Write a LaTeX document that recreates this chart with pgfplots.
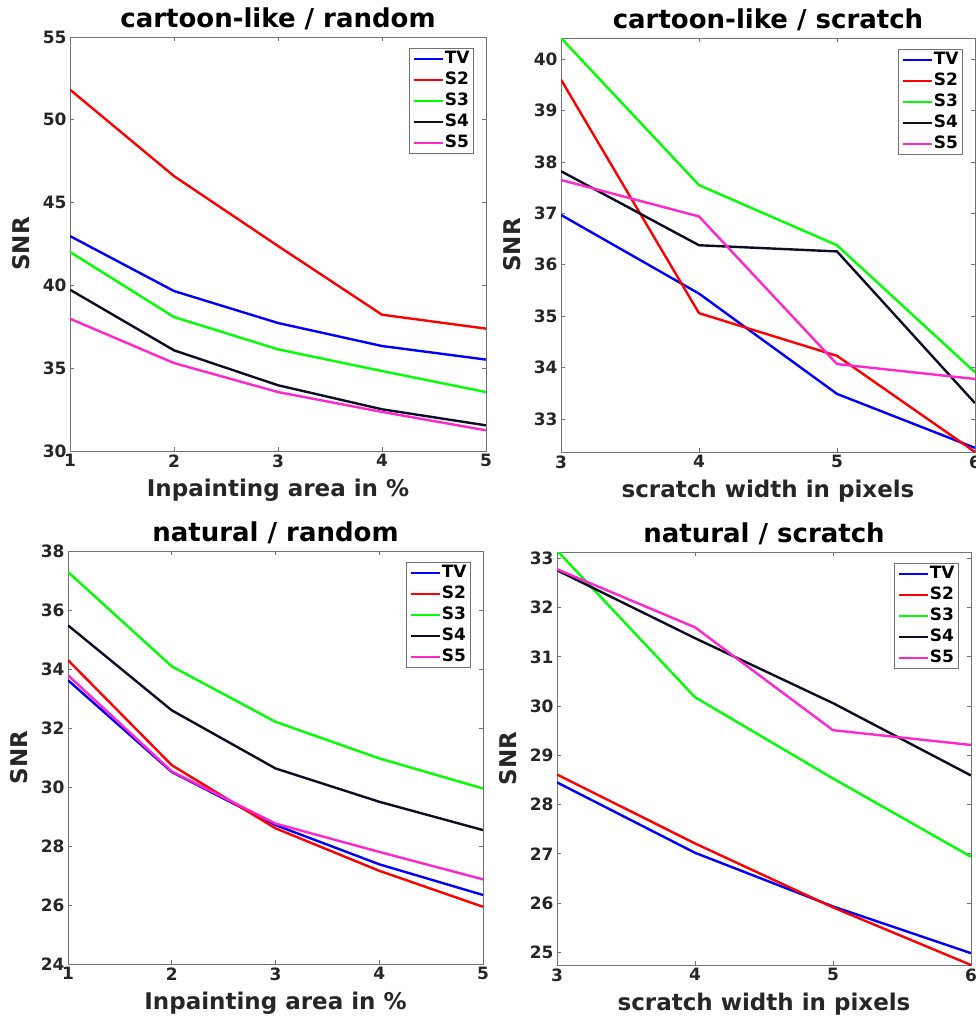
\documentclass[border=0pt]{standalone}
\usepackage{pgfplots}
\pgfplotsset{compat=1.18}
\usepackage{fontspec}
\setmainfont{DejaVu Sans}
\definecolor{cTV}{rgb}{0,0,1}
\definecolor{cS2}{rgb}{1,0,0}
\definecolor{cS3}{rgb}{0,1,0}
\definecolor{cS4}{rgb}{0.05,0.05,0.15}
\definecolor{cS5}{rgb}{1,0.15,0.8}
\definecolor{axgray}{rgb}{0.45,0.45,0.45}
\definecolor{txt}{rgb}{0.15,0.15,0.15}
\pgfplotsset{
  myaxis/.style={
    scale only axis,
    axis line style={axgray, line width=0.8pt},
    tick style={axgray, line width=0.8pt},
    tick align=inside,
    major tick length=4pt,
    /pgf/number format/assume math mode=true,
    tick label style={font=\fontsize{17}{20}\selectfont\bfseries, color=txt},
    label style={font=\fontsize{23}{26}\selectfont\bfseries, color=txt},
    xlabel style={yshift=-5pt},
    ylabel style={yshift=6pt},
    title style={font=\fontsize{26}{30}\selectfont\bfseries, yshift=-2pt},
    ylabel={SNR},
    legend cell align=left,
    legend style={at={(1,1)}, anchor=north east, xshift=-12pt, yshift=-11pt,
      draw=axgray, line width=0.8pt, fill=white, inner xsep=3pt, inner ysep=2.5pt,
      font=\fontsize{17}{19}\selectfont\bfseries, row sep=5pt, column sep=0pt,
      nodes={inner xsep=1pt, inner ysep=0pt, text height=12.5pt, text depth=3.5pt}},
    legend image code/.code={\draw[##1] (0pt,0pt) -- (29pt,0pt);},
    every axis plot/.append style={line width=2.4pt},
  }
}
\begin{document}
\begin{tikzpicture}
% ---------------- top-left
\begin{axis}[myaxis, at={(70pt,-37pt)}, anchor=north west,
  width=416pt, height=414pt,
  xmin=1, xmax=5, ymin=30, ymax=55, xtick={1,2,3,4,5}, ytick={30,35,40,45,50,55},
  title={cartoon-like / random}, xlabel={Inpainting area in \%}]
\addplot[cTV] coordinates {(1,42.98) (2,39.66) (3,37.73) (4,36.34) (5,35.52)};
\addplot[cS2] coordinates {(1,51.82) (2,46.60) (3,42.38) (4,38.23) (5,37.39)};
\addplot[cS3] coordinates {(1,42.02) (2,38.09) (3,36.14) (4,34.83) (5,33.56)};
\addplot[cS4] coordinates {(1,39.74) (2,36.08) (3,33.97) (4,32.52) (5,31.55)};
\addplot[cS5] coordinates {(1,37.99) (2,35.31) (3,33.56) (4,32.36) (5,31.25)};
\legend{TV,S2,S3,S4,S5}
\end{axis}
% ---------------- top-right
\begin{axis}[myaxis, at={(561pt,-38pt)}, anchor=north west,
  width=414pt, height=414pt,
  xmin=3, xmax=6, ymin=32.36, ymax=40.41, xtick={3,4,5,6}, ytick={33,34,35,36,37,38,39,40},
  title={cartoon-like / scratch}, xlabel={scratch width in pixels}]
\addplot[cTV] coordinates {(3,36.97) (4,35.44) (5,33.49) (6,32.44)};
\addplot[cS2] coordinates {(3,39.60) (4,35.06) (5,34.23) (6,32.36)};
\addplot[cS3] coordinates {(3,40.41) (4,37.55) (5,36.38) (6,33.91)};
\addplot[cS4] coordinates {(3,37.82) (4,36.38) (5,36.26) (6,33.31)};
\addplot[cS5] coordinates {(3,37.65) (4,36.94) (5,34.07) (6,33.78)};
\legend{TV,S2,S3,S4,S5}
\end{axis}
% ---------------- bottom-left
\begin{axis}[myaxis, at={(68pt,-551pt)}, anchor=north west,
  width=415pt, height=413pt,
  xmin=1, xmax=5, ymin=24, ymax=38, xtick={1,2,3,4,5}, ytick={24,26,28,30,32,34,36,38},
  title={natural / random}, xlabel={Inpainting area in \%}]
\addplot[cTV] coordinates {(1,33.62) (2,30.51) (3,28.71) (4,27.38) (5,26.34)};
\addplot[cS2] coordinates {(1,34.30) (2,30.74) (3,28.60) (4,27.16) (5,25.94)};
\addplot[cS3] coordinates {(1,37.29) (2,34.09) (3,32.21) (4,30.97) (5,29.95)};
\addplot[cS4] coordinates {(1,35.48) (2,32.60) (3,30.63) (4,29.50) (5,28.54)};
\addplot[cS5] coordinates {(1,33.79) (2,30.53) (3,28.76) (4,27.80) (5,26.87)};
\legend{TV,S2,S3,S4,S5}
\end{axis}
% ---------------- bottom-right
\begin{axis}[myaxis, at={(557pt,-552pt)}, anchor=north west,
  width=414pt, height=413pt,
  xmin=3, xmax=6, ymin=24.74, ymax=33.13, xtick={3,4,5,6}, ytick={25,26,27,28,29,30,31,32,33},
  title={natural / scratch}, xlabel={scratch width in pixels}]
\addplot[cTV] coordinates {(3,28.45) (4,27.02) (5,25.93) (6,24.98)};
\addplot[cS2] coordinates {(3,28.61) (4,27.21) (5,25.91) (6,24.74)};
\addplot[cS3] coordinates {(3,33.16) (4,30.18) (5,28.53) (6,26.94)};
\addplot[cS4] coordinates {(3,32.76) (4,31.38) (5,30.06) (6,28.59)};
\addplot[cS5] coordinates {(3,32.78) (4,31.60) (5,29.51) (6,29.21)};
\legend{TV,S2,S3,S4,S5}
\end{axis}
\pgfresetboundingbox
\useasboundingbox (0pt,0pt) rectangle (976pt,-1023pt);
\end{tikzpicture}
\end{document}
